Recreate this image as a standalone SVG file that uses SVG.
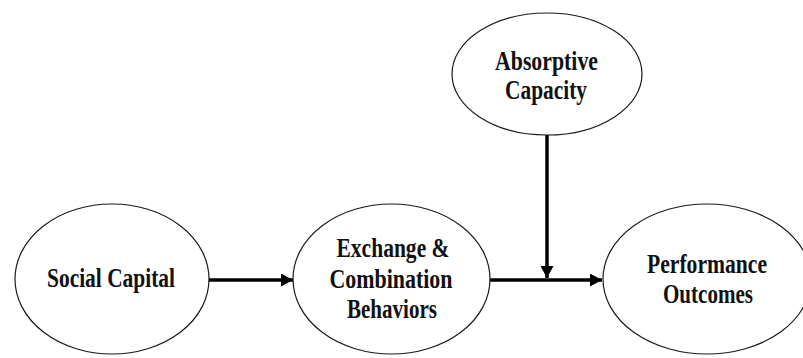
<svg xmlns="http://www.w3.org/2000/svg" width="803" height="358" viewBox="0 0 803 358">
  <style>
    .node { fill: #ffffff; stroke: #1a1a1a; stroke-width: 1.2; }
    .label { font-family: "Liberation Serif", "Times New Roman", serif; font-weight: bold; font-size: 27px; fill: #111111; text-anchor: middle; }
    .edge { stroke: #000000; stroke-width: 3.5; fill: none; }
  </style>
  <defs>
    <marker id="arrow" viewBox="0 0 12 13" refX="12" refY="6.5" markerWidth="12" markerHeight="13" markerUnits="userSpaceOnUse" orient="auto">
      <path d="M0,0 L12,6.5 L0,13 Z" fill="#000000"/>
    </marker>
  </defs>
  <rect width="803" height="358" fill="#ffffff"/>

  <g id="connectors">
    <line class="edge" x1="208" y1="280" x2="293" y2="280" marker-end="url(#arrow)"/>
    <line class="edge" x1="490" y1="280" x2="602" y2="280" marker-end="url(#arrow)"/>
    <line class="edge" x1="547" y1="135" x2="547" y2="278" marker-end="url(#arrow)"/>
  </g>

  <g id="social-capital">
    <ellipse class="node" cx="112" cy="279" rx="97" ry="75"/>
    <text class="label" x="111" y="287" textLength="128" lengthAdjust="spacingAndGlyphs">Social Capital</text>
  </g>

  <g id="exchange-combination">
    <ellipse class="node" cx="391.5" cy="279" rx="98.5" ry="75"/>
    <text class="label" x="393" y="257" textLength="113" lengthAdjust="spacingAndGlyphs">Exchange &amp;</text>
    <text class="label" x="391" y="288" textLength="123" lengthAdjust="spacingAndGlyphs">Combination</text>
    <text class="label" x="392" y="318" textLength="90" lengthAdjust="spacingAndGlyphs">Behaviors</text>
  </g>

  <g id="absorptive-capacity">
    <ellipse class="node" cx="547" cy="74" rx="95" ry="61"/>
    <text class="label" x="546.5" y="70" textLength="103" lengthAdjust="spacingAndGlyphs">Absorptive</text>
    <text class="label" x="546" y="99" textLength="82" lengthAdjust="spacingAndGlyphs">Capacity</text>
  </g>

  <g id="performance-outcomes">
    <ellipse class="node" cx="707" cy="279" rx="104" ry="75"/>
    <text class="label" x="707" y="273" textLength="120" lengthAdjust="spacingAndGlyphs">Performance</text>
    <text class="label" x="708" y="303" textLength="90" lengthAdjust="spacingAndGlyphs">Outcomes</text>
  </g>
</svg>
